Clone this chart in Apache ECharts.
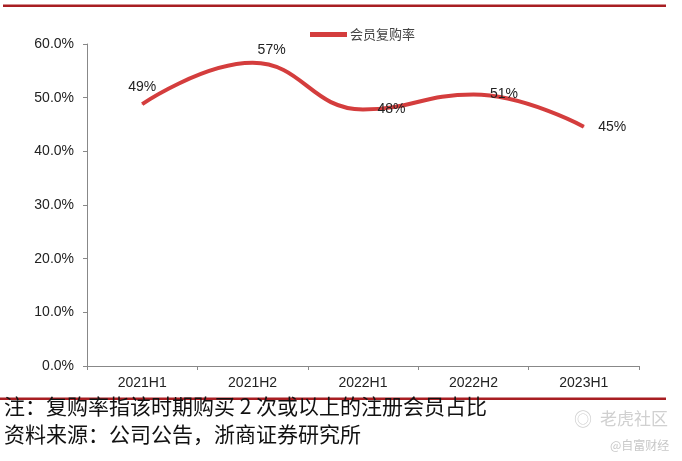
<!DOCTYPE html>
<html>
<head>
<meta charset="utf-8">
<script src="https://cdn.jsdelivr.net/npm/echarts@6/dist/echarts.min.js"></script>
<style>
html,body{margin:0;padding:0;background:#fff;}
#c{width:682px;height:461px;}
</style>
</head>
<body>
<div id="c"></div>
<script>
var categories = ['2021H1', '2021H2', '2022H1', '2022H2', '2023H1'];
var seriesName = '会员复购率';
var repurchaseRate = [48.8, 56.5, 47.8, 50.6, 44.6];
var yTicks = {min: 0, max: 60, interval: 10};
var noteLine = '注：复购率指该时期购买 2 次或以上的注册会员占比';
var sourceLine = '资料来源：公司公告，浙商证券研究所';

var labelPos = [
  {position: 'top', distance: 9},
  {position: 'top', distance: 5, offset: [19, 0]},
  {position: 'right', distance: 14},
  {position: 'right', distance: 16},
  {position: 'right', distance: 14}
];

var chart = echarts.init(document.getElementById('c'), null, {renderer: 'canvas'});
var cjk = '"Noto Sans CJK SC", sans-serif';
var latin = '"Liberation Sans", Arial, sans-serif';

chart.setOption({
  animation: false,
  backgroundColor: '#fff',
  grid: {left: 87, right: 43, top: 44, bottom: 95, containLabel: false},
  legend: {
    data: [seriesName],
    left: 305, top: 23,
    itemWidth: 37, itemHeight: 5, itemGap: 4,
    icon: 'rect',
    textStyle: {fontFamily: cjk, fontSize: 13, color: '#444', padding: [0, 0, 0, -2]}
  },
  xAxis: {
    type: 'category',
    data: categories,
    boundaryGap: true,
    axisLine: {lineStyle: {color: '#888', width: 1}},
    axisTick: {show: true, length: 4, lineStyle: {color: '#888'}},
    axisLabel: {fontFamily: latin, fontSize: 14, color: '#222', margin: 10}
  },
  yAxis: {
    type: 'value',
    min: yTicks.min, max: yTicks.max, interval: yTicks.interval,
    axisLine: {show: true, lineStyle: {color: '#888', width: 1}},
    axisTick: {show: true, length: 4, lineStyle: {color: '#888'}},
    splitLine: {show: false},
    axisLabel: {
      fontFamily: latin, fontSize: 14, color: '#222', margin: 13,
      formatter: function (v) { return v.toFixed(1) + '%'; }
    }
  },
  series: [{
    name: seriesName,
    type: 'line',
    smooth: 0.45,
    symbol: 'circle',
    symbolSize: 1,
    showSymbol: true,
    lineStyle: {color: '#d43d3d', width: 4},
    itemStyle: {color: '#d43d3d'},
    label: {
      show: true,
      fontFamily: latin, fontSize: 14, color: '#222',
      formatter: function (p) { return Math.round(p.value) + '%'; }
    },
    data: repurchaseRate.map(function (v, i) {
      return {
        value: v,
        label: labelPos[i]
      };
    })
  }],
  graphic: [
    {type: 'rect', shape: {x: 3, y: 4.5, width: 663, height: 2.5}, style: {fill: '#a81e22'}},
    {type: 'rect', shape: {x: 0, y: 397.5, width: 666, height: 2.5}, style: {fill: '#a81e22'}},
    {type: 'text', left: 4, top: 396, style: {text: noteLine, font: '21px ' + cjk, fill: '#111'}},
    {type: 'text', left: 4, top: 424, style: {text: sourceLine, font: '21px ' + cjk, fill: '#111'}},
    {type: 'text', left: 574, top: 410, style: {text: '◎', font: '18px ' + cjk, fill: '#d0d0d0'}},
    {type: 'text', left: 600, top: 410, style: {text: '老虎社区', font: '17px ' + cjk, fill: '#d0d0d0'}},
    {type: 'text', left: 610, top: 439, style: {text: '@自富财经', font: '12px ' + cjk, fill: '#c8c8c8'}}
  ]
});
</script>
</body>
</html>
